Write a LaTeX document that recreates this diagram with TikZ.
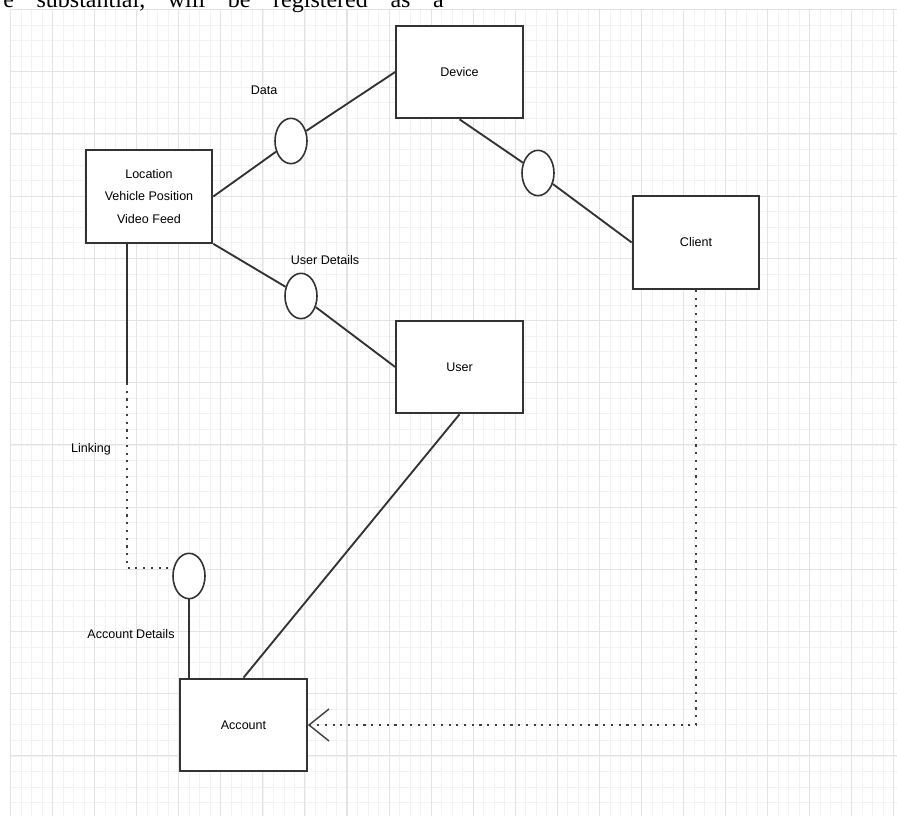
\documentclass[tikz,border=0pt]{standalone}
\usepackage{fontspec}
\setmainfont{Liberation Serif}
\newfontfamily\diagfont{Liberation Sans}
\usetikzlibrary{shapes.geometric,arrows.meta}
\tikzset{
  entity/.style={draw=black!80,line width=1.5pt,fill=white,minimum width=95pt,minimum height=69.5pt,inner sep=0pt,align=center,font=\diagfont\fontsize{9.4}{16.9}\selectfont},
  port/.style={ellipse,draw=black!80,line width=1.2pt,fill=white,minimum width=24pt,minimum height=34pt,inner sep=0pt},
  link/.style={draw=black!80,line width=1.4pt},
  dotlink/.style={draw=black!75,line width=1.6pt,dash pattern=on 1.6pt off 4.2pt},
  lbl/.style={font=\diagfont\fontsize{9.4}{11}\selectfont,inner sep=0pt},
}
\begin{document}
\begin{tikzpicture}[x=0.75pt,y=-0.75pt]
\useasboundingbox (0,0) rectangle (897,816);
\fill[white] (0,0) rectangle (897,816);
% grid paper
\foreach \i in {0,...,84} \draw[gray!10,line width=0.5pt] ({10.5+10.515*\i},9.5) -- ({10.5+10.515*\i},816);
\foreach \j in {0,...,52} \draw[gray!10,line width=0.5pt] (10.5,{9.5+15.55*\j}) -- (897,{9.5+15.55*\j});
\foreach \i in {0,...,21} \draw[gray!22,line width=0.8pt] ({10.5+42.06*\i},9.5) -- ({10.5+42.06*\i},816);
\foreach \j in {0,...,13} \draw[gray!22,line width=0.8pt] (10.5,{9.5+62.2*\j}) -- (897,{9.5+62.2*\j});
\node[anchor=base west,inner sep=0pt,font=\fontsize{18}{20}\selectfont] (head) at (3,7.5) {\spaceskip=17pt\relax e substantial, will be registered as a};

% boxes
\node[entity] (loc) at (149,196.5) {Location\\Vehicle Position\\Video Feed};
\node[entity] (dev) at (459.5,72) {Device};
\node[entity] (cli) at (696,242.5) {Client};
\node[entity] (usr) at (459.5,367) {User};
\node[entity] (acc) at (243.5,725) {Account};

% interfaces
\node[port] (data) at (291,141) {};
\node[port] (dc) at (538,173) {};
\node[port] (ud) at (301,296) {};
\node[port] (ad) at (189,576) {};

\node[lbl] (datalbl) at (264,90) {Data};
\node[lbl] (udlbl) at (325,260) {User Details};
\node[lbl] (lklbl) at (91,449) {Linking};
\node[lbl] (adlbl) at (131,634) {Account Details};

\coordinate (lk) at (127,383);
\coordinate (lc) at (127,568);

% connectors
\draw[link] (loc.east) -- (data);
\draw[link] (data) -- (dev.west);
\draw[link] (dev.south) -- (dc);
\draw[link] (dc) -- (cli.west);
\draw[link] (loc.south east) -- (ud);
\draw[link] (ud) -- (usr.west);
\draw[link] (usr.south) -- (acc.north);
\draw[link] (loc.south -| lk) -- (lk);
\draw[dotlink] (lk) -- (lc) -- (lc -| ad.west);
\draw[link] (ad.south) -- (ad.south |- acc.north);
\draw[dotlink,-{Straight Barb[length=15pt,width=24pt,line width=1.1pt]}] (cli.south) |- (acc.east);
\end{tikzpicture}
\end{document}
